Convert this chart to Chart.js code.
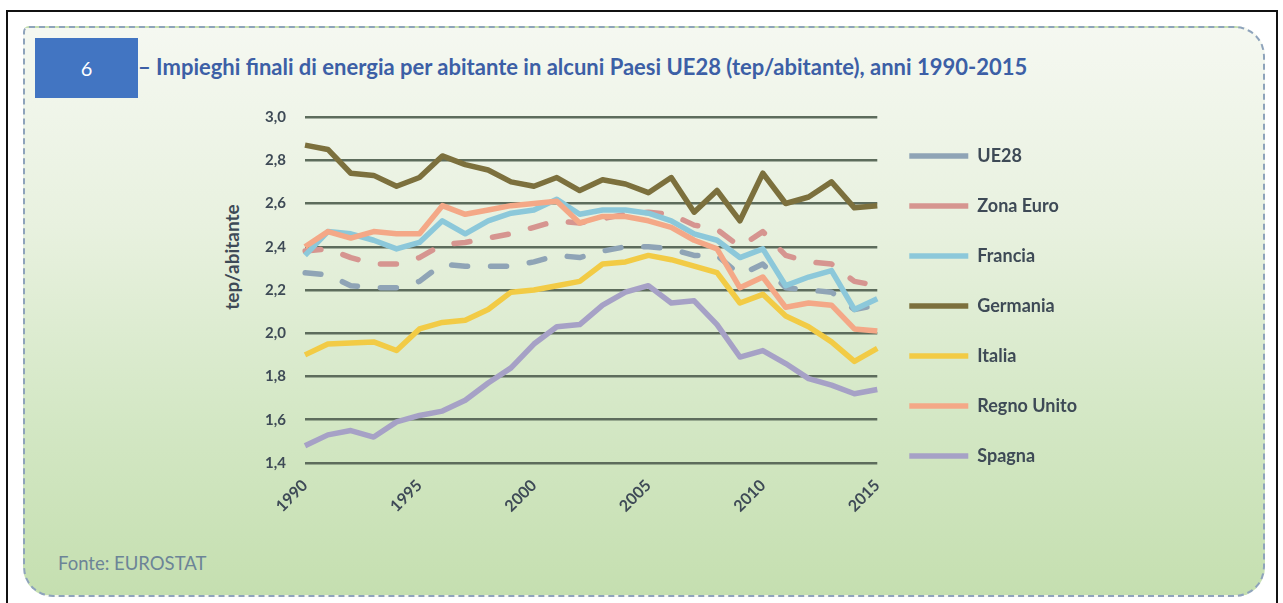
<!DOCTYPE html>
<html lang="it">
<head>
<meta charset="utf-8">
<title>Impieghi finali di energia per abitante</title>
<script src="https://cdn.jsdelivr.net/npm/chart.js@4.4.1/dist/chart.umd.min.js"></script>
<style>
  body { margin: 0; width: 1283px; height: 603px; overflow: hidden; background: #fff; position: relative; font-family: Lato, "Open Sans", sans-serif; }
  #frame { position: absolute; left: 6px; top: 10px; width: 1268px; height: 620px; border: 2px solid #111; }
  #panel {
    position: absolute; left: 23px; top: 26px; width: 1238px; height: 567px;
    border: 2px dashed #8ea3bb; border-radius: 6px 30px 30px 30px;
    background: linear-gradient(180deg, #f5f8f1 0%, #e8f1df 35%, #d3e7c4 70%, #c5dfb0 100%);
  }
  #badge { position: absolute; left: 35px; top: 38px; width: 103px; height: 60px; background: #4275c2; color: #fff; font-size: 20px; line-height: 60px; text-align: center; }
  #title { position: absolute; left: 138px; top: 55px; white-space: nowrap; font-size: 22px; font-weight: bold; color: #3c5fa6; line-height: 24px; }
  #ytitle { position: absolute; left: 231px; top: 257px; transform: translate(-50%, -50%) rotate(-90deg); white-space: nowrap; font-size: 19px; font-weight: bold; color: #3e4a56; }
  #source { position: absolute; left: 58px; top: 552px; font-size: 18.5px; color: #6c8497; }
  #wrap { position: absolute; left: 200px; top: 89px; width: 918px; height: 431px; }
</style>
</head>
<body>
<div id="frame"></div>
<div id="panel"></div>
<div id="badge">6</div>
<div id="title">– Impieghi finali di energia per abitante in alcuni Paesi UE28 (tep/abitante), anni 1990-2015</div>
<div id="ytitle">tep/abitante</div>
<div id="wrap"><canvas id="energyChart"></canvas></div>
<div id="source">Fonte: EUROSTAT</div>
<script>
const years = ['1990', '1991', '1992', '1993', '1994', '1995', '1996', '1997', '1998', '1999',
  '2000', '2001', '2002', '2003', '2004', '2005', '2006', '2007', '2008', '2009',
  '2010', '2011', '2012', '2013', '2014', '2015'];

// tep per abitante
const ue28 = [2.28, 2.27, 2.22, 2.21, 2.21, 2.24, 2.32, 2.31, 2.31, 2.31, 2.33, 2.36, 2.35, 2.38, 2.40, 2.40, 2.39, 2.36, 2.36, 2.27, 2.32, 2.21, 2.20, 2.19, 2.11, 2.13];
const zonaEuro = [2.38, 2.39, 2.35, 2.32, 2.32, 2.35, 2.41, 2.42, 2.44, 2.46, 2.49, 2.52, 2.51, 2.53, 2.55, 2.56, 2.55, 2.50, 2.48, 2.40, 2.47, 2.36, 2.33, 2.32, 2.24, 2.22];
const francia = [2.36, 2.47, 2.46, 2.43, 2.39, 2.42, 2.52, 2.46, 2.52, 2.555, 2.57, 2.62, 2.55, 2.57, 2.57, 2.555, 2.52, 2.46, 2.43, 2.35, 2.39, 2.22, 2.26, 2.29, 2.11, 2.16];
const germania = [2.87, 2.85, 2.74, 2.73, 2.68, 2.72, 2.82, 2.78, 2.755, 2.70, 2.68, 2.72, 2.66, 2.71, 2.69, 2.65, 2.72, 2.56, 2.66, 2.52, 2.74, 2.60, 2.63, 2.70, 2.58, 2.59];
const italia = [1.90, 1.95, 1.955, 1.96, 1.92, 2.02, 2.05, 2.06, 2.11, 2.19, 2.20, 2.22, 2.24, 2.32, 2.33, 2.36, 2.34, 2.31, 2.28, 2.14, 2.18, 2.08, 2.03, 1.96, 1.87, 1.93];
const regnoUnito = [2.40, 2.47, 2.44, 2.47, 2.46, 2.46, 2.59, 2.55, 2.57, 2.59, 2.60, 2.61, 2.51, 2.54, 2.54, 2.52, 2.49, 2.43, 2.39, 2.21, 2.26, 2.12, 2.14, 2.13, 2.02, 2.01];
const spagna = [1.48, 1.53, 1.55, 1.52, 1.59, 1.62, 1.64, 1.69, 1.77, 1.84, 1.95, 2.03, 2.04, 2.13, 2.19, 2.22, 2.14, 2.15, 2.04, 1.89, 1.92, 1.86, 1.79, 1.76, 1.72, 1.74];

const series = [
  { label: 'UE28', data: ue28, color: '#8fa4b6', dashed: true },
  { label: 'Zona Euro', data: zonaEuro, color: '#d69590', dashed: true },
  { label: 'Francia', data: francia, color: '#8cc8da' },
  { label: 'Germania', data: germania, color: '#7c703d' },
  { label: 'Italia', data: italia, color: '#f2cb45' },
  { label: 'Regno Unito', data: regnoUnito, color: '#f4a887' },
  { label: 'Spagna', data: spagna, color: '#a6a1c6' },
];

const textColor = '#3e4a56';

new Chart(document.getElementById('energyChart'), {
  type: 'line',
  data: {
    labels: years,
    datasets: series.map((s, i) => ({
      label: s.label,
      data: s.data,
      borderColor: s.color,
      backgroundColor: s.color,
      borderWidth: 5.5,
      borderDash: s.dashed ? [16, 23] : [],
      borderCapStyle: s.dashed ? 'round' : 'butt',
      borderJoinStyle: 'round',
      pointRadius: 0,
      tension: 0,
      // later series sit on top
      order: series.length - 1 - i,
    })),
  },
  options: {
    responsive: true,
    maintainAspectRatio: false,
    animation: false,
    layout: { padding: { top: 7, right: 31, bottom: 0, left: 0 } },
    scales: {
      x: {
        grid: { display: false, drawTicks: false },
        border: { display: false },
        ticks: {
          autoSkip: false,
          minRotation: 45,
          maxRotation: 45,
          padding: 13,
          color: textColor,
          font: { family: 'Lato', size: 16, weight: 'bold' },
          callback: function (value) {
            const year = this.getLabelForValue(value);
            return Number(year) % 5 === 0 ? year : '';
          },
        },
        afterFit: (scale) => { scale.height = 57; },
      },
      y: {
        min: 1.4,
        max: 3.0,
        grid: { color: '#5d6c5c', lineWidth: 2.5, drawTicks: false },
        border: { display: false },
        ticks: {
          stepSize: 0.2,
          padding: 19,
          color: textColor,
          font: { family: 'Lato', size: 15, weight: 'bold' },
          callback: (value) => value.toFixed(1).replace('.', ','),
        },
        afterFit: (scale) => { scale.width = 105; },
      },
    },
    plugins: {
      tooltip: { enabled: false },
      legend: {
        position: 'right',
        align: 'start',
        // empty title only pushes the entries down a little
        title: { display: true, text: '', font: { size: 2, lineHeight: 1 }, padding: 8.5 },
        labels: {
          usePointStyle: true,
          pointStyle: 'line',
          pointStyleWidth: 59,
          padding: 32,
          color: textColor,
          font: { family: 'Lato', size: 18, weight: 'bold' },
          sort: (a, b) => a.datasetIndex - b.datasetIndex,
        },
      },
    },
  },
});
</script>
</body>
</html>
